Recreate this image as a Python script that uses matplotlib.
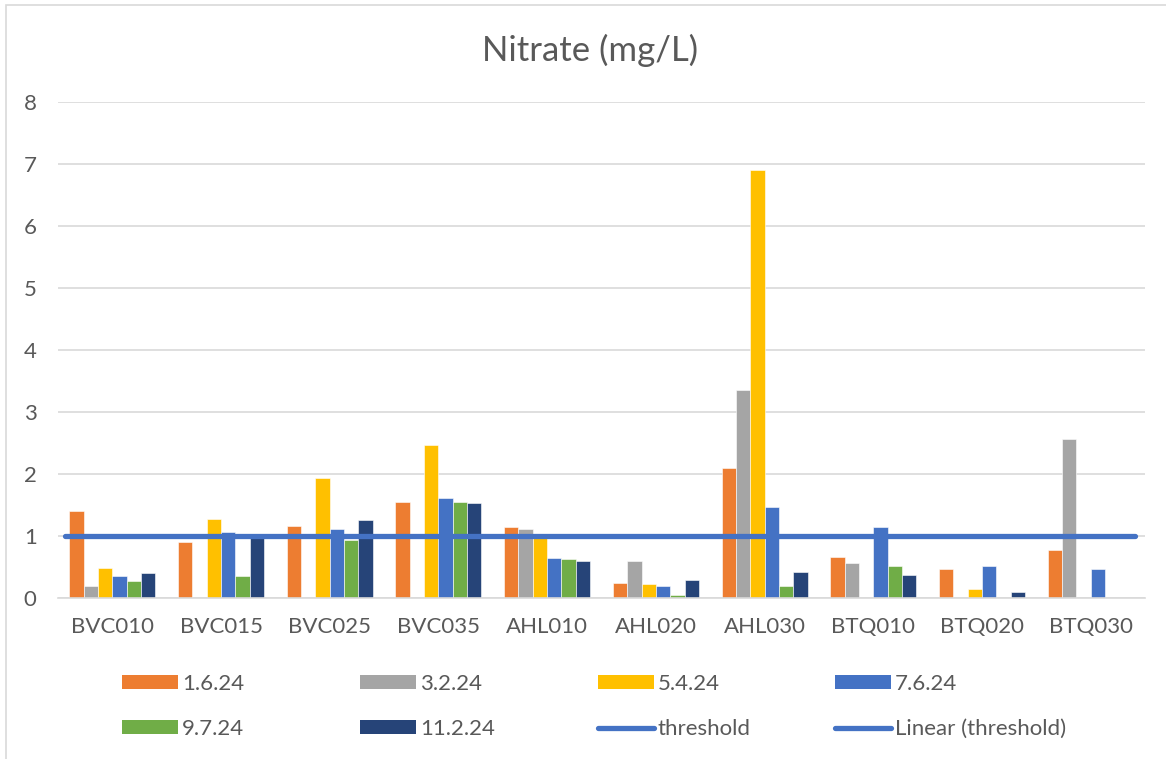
import numpy as np
import matplotlib.pyplot as plt
from matplotlib.patches import Patch, Rectangle
from matplotlib.lines import Line2D

plt.rcParams["font.family"] = ["Lato", "DejaVu Sans"]

sites = ["BVC010", "BVC015", "BVC025", "BVC035", "AHL010",
         "AHL020", "AHL030", "BTQ010", "BTQ020", "BTQ030"]
nan = np.nan

# nitrate per sampling date (mg/L), nan = not sampled
d_1_6_24 = [1.40, 0.91, 1.16, 1.55, 1.15, 0.25, 2.09, 0.66, 0.47, 0.78]
d_3_2_24 = [0.20, nan, nan, nan, 1.11, 0.60, 3.35, 0.57, nan, 2.56]
d_5_4_24 = [0.48, 1.28, 1.93, 2.46, 0.96, 0.22, 6.91, nan, 0.15, nan]
d_7_6_24 = [0.36, 1.07, 1.11, 1.62, 0.64, 0.19, 1.46, 1.15, 0.51, 0.47]
d_9_7_24 = [0.27, 0.35, 0.93, 1.55, 0.63, 0.05, 0.19, 0.51, nan, nan]
d_11_2_24 = [0.41, 0.97, 1.26, 1.53, 0.60, 0.29, 0.42, 0.37, 0.10, nan]
threshold = 1.0

series = [
    ("1.6.24", d_1_6_24, "#ED7D31"),
    ("3.2.24", d_3_2_24, "#A5A5A5"),
    ("5.4.24", d_5_4_24, "#FFC000"),
    ("7.6.24", d_7_6_24, "#4472C4"),
    ("9.7.24", d_9_7_24, "#70AD47"),
    ("11.2.24", d_11_2_24, "#264478"),
]

W, H = 1166, 759
fig = plt.figure(figsize=(W / 100, H / 100), dpi=100)
ax = fig.add_axes([58 / W, 1 - 598 / H, (1145 - 58) / W, (598 - 102) / H])

x = np.arange(len(sites))
bw = 0.132
for i, (name, vals, col) in enumerate(series):
    ax.bar(x + (i - 2.5) * bw, vals, width=bw, color=col,
           edgecolor="white", linewidth=0.4, zorder=2)

# threshold line (with its linear trendline on top)
ax.plot([-0.44, 9.41], [threshold, threshold], color="#4472C4",
        linewidth=3.8, solid_capstyle="round", zorder=3)

ax.set_xlim(-0.5, 9.5)
ax.set_ylim(0, 8)
ax.set_yticks(range(9))
ax.set_xticks(x)
ax.set_xticklabels(sites)
ax.grid(axis="y", color="#D9D9D9", linewidth=1.2, zorder=0)
for s in ["top", "right", "left"]:
    ax.spines[s].set_visible(False)
ax.spines["bottom"].set_color("#D9D9D9")
ax.spines["bottom"].set_linewidth(1.2)
ax.tick_params(axis="both", length=0, labelsize=16, labelcolor="#595959")
ax.tick_params(axis="y", pad=20)
ax.tick_params(axis="x", pad=14)
for t in ax.get_yticklabels():
    t.set_horizontalalignment("center")

fig.text(590 / W, 1 - 50 / H, "Nitrate (mg/L)", ha="center", va="center",
         fontsize=25, color="#595959")

# legend, four evenly spaced columns of two rows
handles = [Patch(facecolor=c, edgecolor="none") for _, _, c in series]
labels = [n for n, _, _ in series]
line_h = Line2D([], [], color="#4472C4", linewidth=3.8, solid_capstyle="round")
handles += [line_h, line_h]
labels += ["threshold", "Linear (threshold)"]
order = [0, 4, 1, 5, 2, 6, 3, 7]
col_x = [122, 360, 598, 835]
for c in range(4):
    i1, i2 = order[2 * c], order[2 * c + 1]
    leg = fig.legend([handles[i1], handles[i2]], [labels[i1], labels[i2]],
                     loc="upper left",
                     bbox_to_anchor=(col_x[c] / W, 1 - 674 / H),
                     frameon=False, fontsize=16, handlelength=2.5,
                     handleheight=0.6, handletextpad=0.2, labelspacing=1.13,
                     borderpad=0.0, borderaxespad=0.0)
    for t in leg.get_texts():
        t.set_color("#595959")

fig.patches.append(Rectangle((6 / W, -0.01), 1.02, 1 - 5 / H + 0.01,
                             transform=fig.transFigure, fill=False,
                             edgecolor="#D9D9D9", linewidth=1.2))

fig.savefig("out.png", dpi=100)
